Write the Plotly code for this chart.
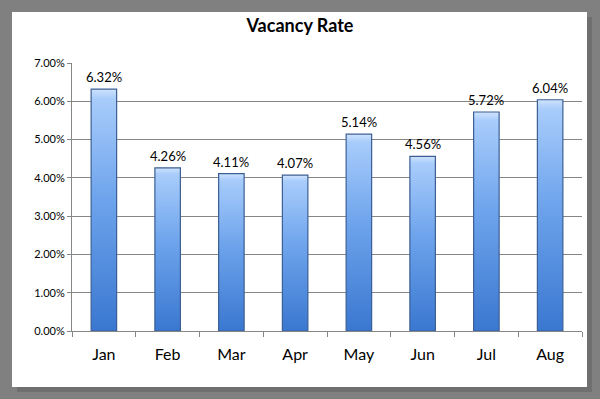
import plotly.graph_objects as go

months = ["Jan", "Feb", "Mar", "Apr", "May", "Jun", "Jul", "Aug"]
rates = [0.0632, 0.0426, 0.0411, 0.0407, 0.0514, 0.0456, 0.0572, 0.0604]
y_ticks = [0, 0.01, 0.02, 0.03, 0.04, 0.05, 0.06, 0.07]

W, H = 600, 399
ml, mr, mt, mb = 72, 18, 63, 68
pw, ph = W - ml - mr, H - mt - mb

def px_x(p):
    return (p - ml) / pw

def px_y(p):
    return (H - mb - p) / ph

FONT = "Lato, 'Open Sans', sans-serif"
half = 0.2

fig = go.Figure()
for i, v in enumerate(rates):
    fig.add_trace(go.Scatter(
        x=[i - half, i - half, i + half, i + half, i - half],
        y=[0, v, v, 0, 0],
        mode="lines",
        fill="toself",
        fillgradient=dict(type="vertical",
                          colorscale=[[0, "#3a77d0"], [0.55, "#6ea4ec"], [0.96, "#a8ccfb"], [1, "#cfe3fd"]]),
        line=dict(color="#3b5f94", width=1.2),
        hovertemplate=f"{months[i]}: {v*100:.2f}%<extra></extra>",
        showlegend=False,
    ))

annotations = [
    dict(x=i, y=v, xref="x", yref="y", text=f"{v*100:.2f}%", showarrow=False,
         yanchor="middle", yshift=12,
         font=dict(family=FONT, size=13, color="#000000"))
    for i, v in enumerate(rates)
]

shapes = [
    dict(type="rect", xref="paper", yref="paper", layer="below",
         x0=px_x(17), x1=px_x(592), y0=px_y(392), y1=px_y(17),
         fillcolor="#6f6f6f", line=dict(width=0)),
    dict(type="rect", xref="paper", yref="paper", layer="below",
         x0=px_x(12), x1=px_x(587), y0=px_y(387), y1=px_y(12),
         fillcolor="#ffffff", line=dict(width=0)),
]

fig.update_layout(
    width=W, height=H,
    margin=dict(l=ml, r=mr, t=mt, b=mb),
    paper_bgcolor="#808080",
    plot_bgcolor="rgba(0,0,0,0)",
    shapes=shapes,
    annotations=annotations,
    title=dict(text="<b>Vacancy Rate</b>", x=0.5, xanchor="center",
               y=1 - 26 / H, yanchor="middle",
               font=dict(family=FONT, size=18, color="#000000")),
    xaxis=dict(range=[-0.5, 7.5], tickmode="array",
               tickvals=list(range(len(months))), ticktext=months,
               ticks="", showgrid=False, zeroline=False,
               showline=True, linecolor="#868686", linewidth=1,
               ticklabelstandoff=9,
               tickfont=dict(family=FONT, size=16, color="#000000"),
               minor=dict(tickmode="array", tickvals=[i - 0.5 for i in range(len(months) + 1)],
                          ticks="outside", ticklen=5, tickcolor="#868686", showgrid=False),
               fixedrange=True),
    yaxis=dict(range=[0, 0.07], tickmode="array", tickvals=y_ticks,
               tickformat=".2%", showgrid=True, gridcolor="#868686", gridwidth=1,
               zeroline=False, showline=True, linecolor="#868686", linewidth=1,
               ticks="outside", ticklen=4, tickcolor="#868686",
               tickfont=dict(family=FONT, size=11, color="#000000"),
               fixedrange=True),
)

fig.write_html("out.html", config={"displayModeBar": False},
               post_script="document.body.style.margin='0';document.body.style.overflow='hidden';")
